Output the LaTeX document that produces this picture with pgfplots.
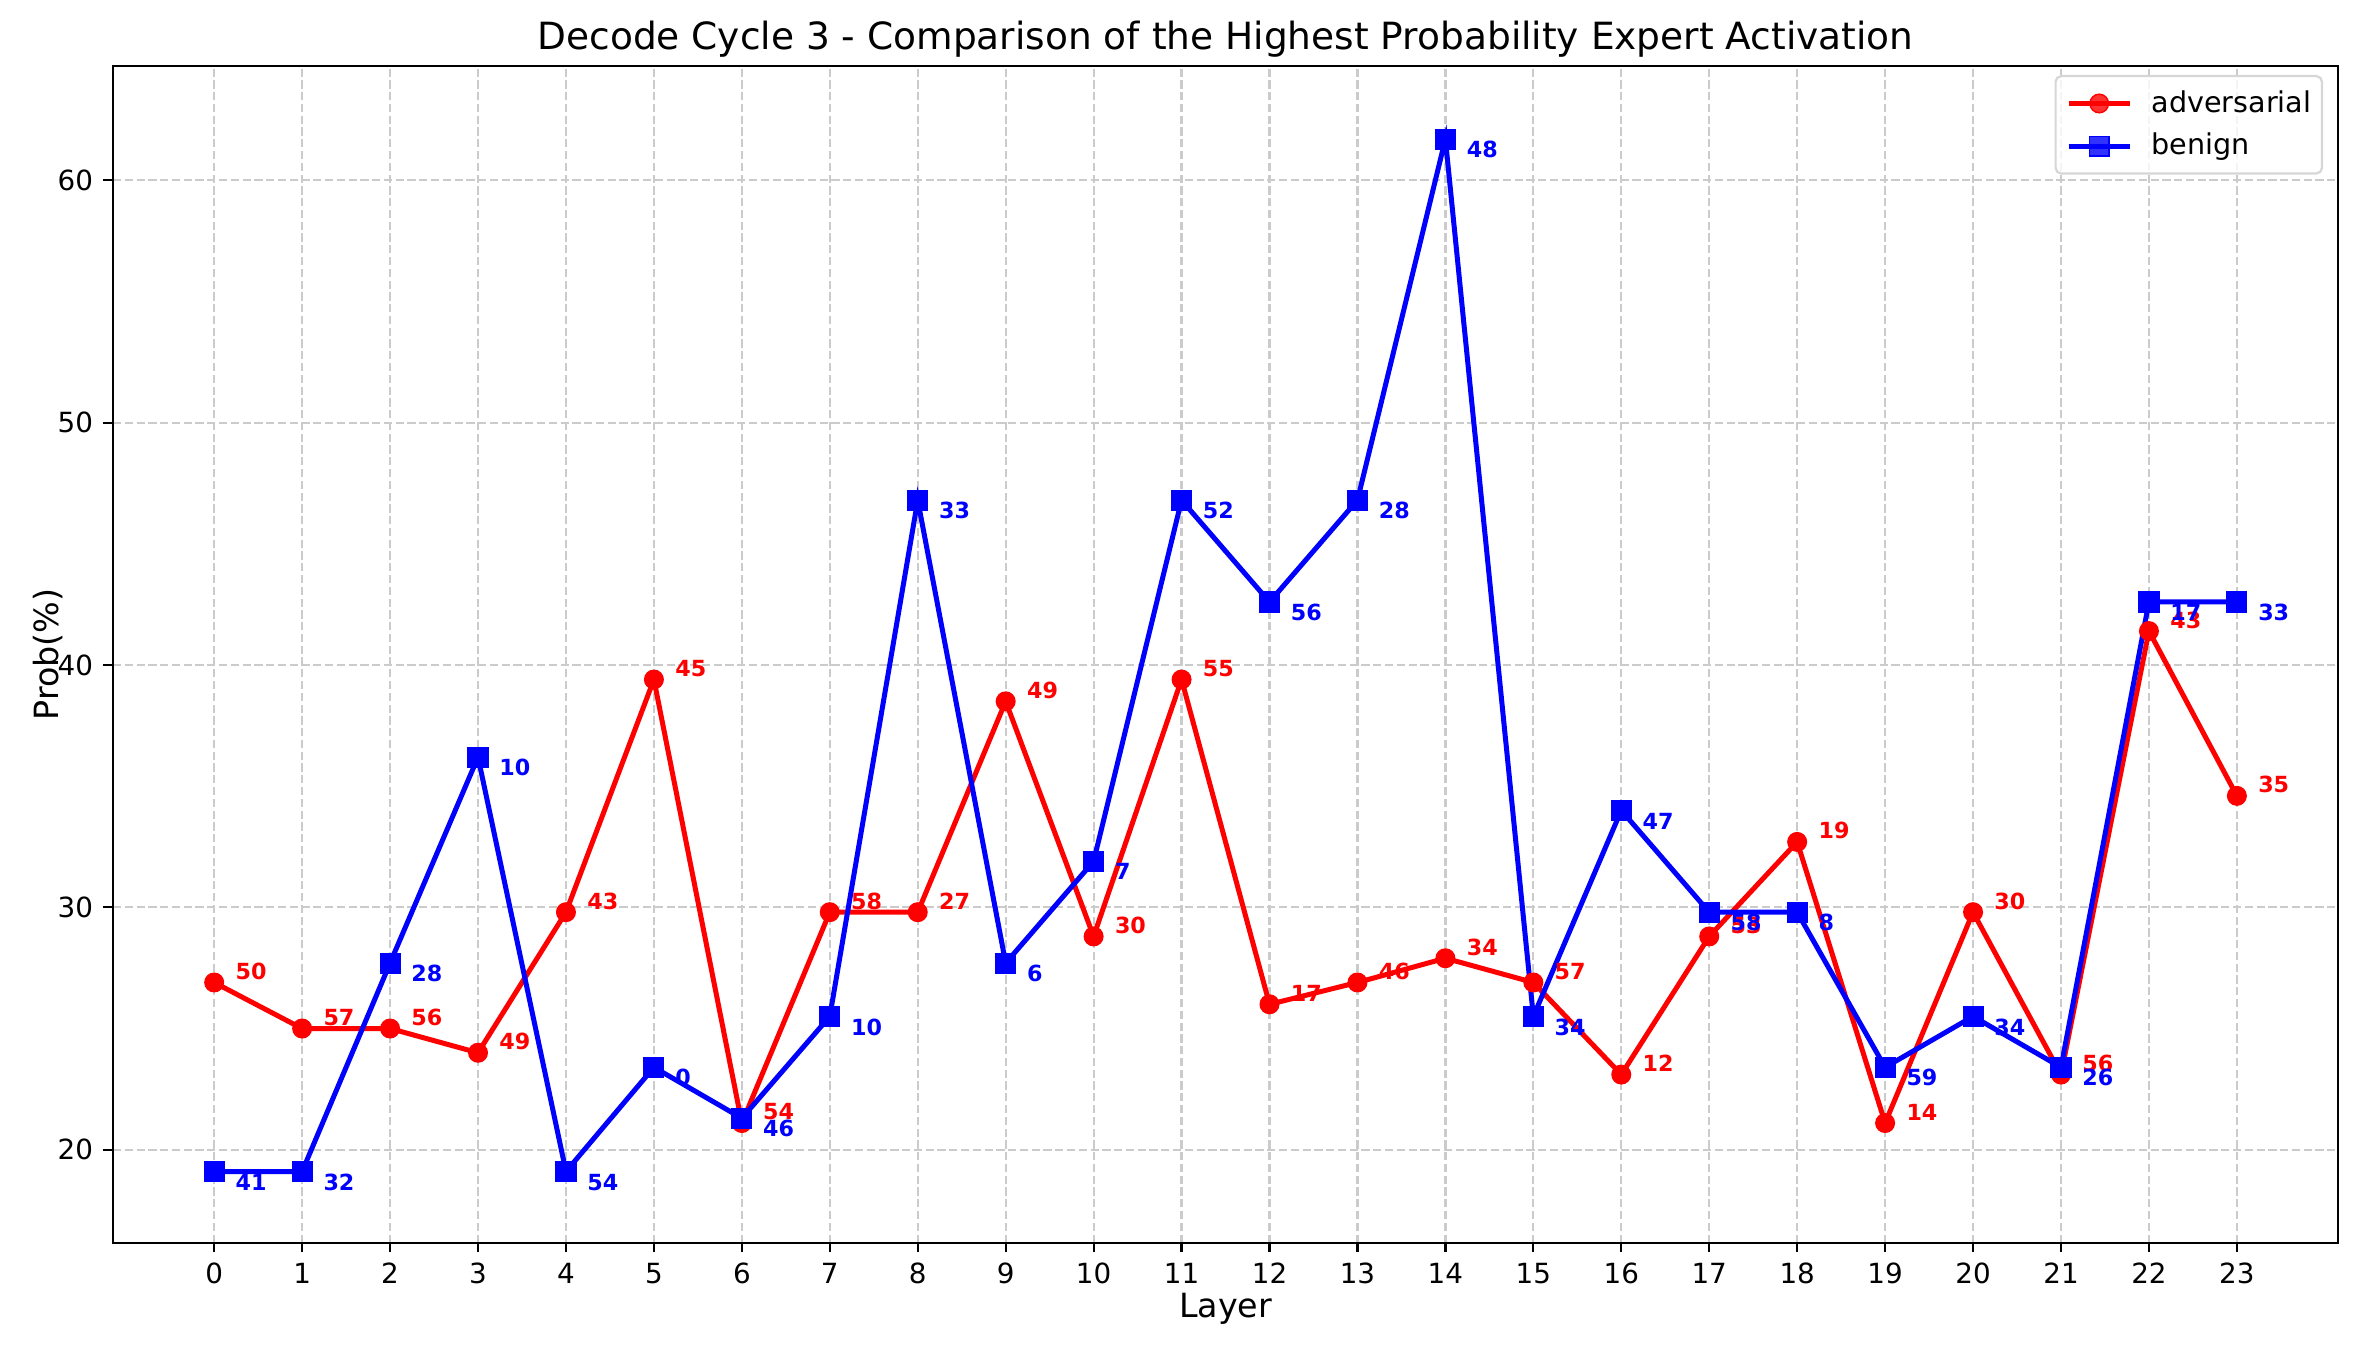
\documentclass[border=0pt]{standalone}
\usepackage{fontspec}
\setmainfont{DejaVu Sans}
\usepackage{pgfplots}
\pgfplotsset{compat=1.18}
\usepackage{pgfplotstable}

\definecolor{gridgray}{RGB}{203,203,203}
\definecolor{legedge}{RGB}{214,214,214}

% layer, adversarial prob, adversarial expert id, benign prob, benign expert id
\pgfplotstableread{
layer adv advlab ben benlab
0  26.9 50 19.1 41
1  25.0 57 19.1 32
2  25.0 56 27.7 28
3  24.0 49 36.2 10
4  29.8 43 19.1 54
5  39.4 45 23.4 0
6  21.1 54 21.3 46
7  29.8 58 25.5 10
8  29.8 27 46.8 33
9  38.5 49 27.7 6
10 28.8 30 31.9 7
11 39.4 55 46.8 52
12 26.0 17 42.6 56
13 26.9 46 46.8 28
14 27.9 34 61.7 48
15 26.9 57 25.5 34
16 23.1 12 34.0 47
17 28.8 53 29.8 58
18 32.7 19 29.8 8
19 21.1 14 23.4 59
20 29.8 30 25.5 34
21 23.1 56 23.4 26
22 41.4 43 42.6 17
23 34.6 35 42.6 33
}\cycledata

\begin{document}
\begin{tikzpicture}
\begin{axis}[
    scale only axis,
    width=801pt, height=423.5pt,
    xmin=-1.15, xmax=24.15,
    ymin=16.16, ymax=64.7,
    xtick={0,...,23},
    ytick={20,30,...,60},
    tick pos=left,
    tick align=outside,
    major tick length=3.5pt,
    tick style={black, line width=0.8pt},
    axis line style={line width=0.8pt},
    grid=major,
    grid style={gridgray, line width=0.8pt, dash pattern=on 2.96pt off 1.28pt},
    tick label style={
        font=\fontsize{10}{12}\selectfont,
        /pgf/number format/assume math mode=true
    },
    xticklabel style={inner sep=0pt, anchor=north, yshift=-3.5pt},
    yticklabel style={inner sep=0pt, anchor=east, xshift=-3.5pt},
    title={Decode Cycle 3 - Comparison of the Highest Probability Expert Activation},
    title style={font=\fontsize{13.5}{16}\selectfont, at={(0.5,1)}, anchor=base, yshift=0pt, inner sep=0pt},
    xlabel={Layer},
    ylabel={Prob(\%)},
    label style={font=\fontsize{12}{14}\selectfont},
    ylabel style={yshift=-5.4pt},
    legend style={
        font=\fontsize{10.3}{12.4}\selectfont,
        at={(1,1)}, anchor=north east,
        xshift=-5.4pt, yshift=-3.1pt,
        draw=legedge, line width=0.8pt, rounded corners=2pt,
        fill=white, fill opacity=0.8, text opacity=1,
        inner xsep=3.8pt, inner ysep=3.2pt,
        row sep=2pt,
        nodes={inner xsep=0pt},
        /tikz/every odd column/.append style={column sep=7pt},
    },
    legend cell align=left,
    legend image code/.code={
        \draw[mark repeat=2, mark phase=2] plot coordinates {(0pt,0pt) (11pt,0pt) (22pt,0pt)};
    },
]
\addplot[red, line width=1.8pt, mark=*, mark size=3.35pt,
    mark options={solid, line width=0.5pt}]
    table[x=layer, y=adv] {\cycledata};
\addlegendentry{adversarial}
\addplot[blue, line width=1.8pt, mark=square*, mark size=3.55pt,
    mark options={solid, line width=0.5pt}]
    table[x=layer, y=ben] {\cycledata};
\addlegendentry{benign}

\addplot[draw=none, forget plot, nodes near coords,
    point meta=explicit symbolic,
    every node near coord/.append style={
        font=\bfseries\fontsize{8}{9.6}\selectfont, text=red,
        anchor=west, inner sep=0pt, xshift=7.5pt, yshift=4pt}]
    table[x=layer, y=adv, meta=advlab] {\cycledata};
\addplot[draw=none, forget plot, nodes near coords,
    point meta=explicit symbolic,
    every node near coord/.append style={
        font=\bfseries\fontsize{8}{9.6}\selectfont, text=blue,
        anchor=west, inner sep=0pt, xshift=7.5pt, yshift=-3.8pt}]
    table[x=layer, y=ben, meta=benlab] {\cycledata};
\end{axis}
\pgfresetboundingbox
\path[use as bounding box]
    ([xshift=-40.7pt, yshift=-38.5pt]current axis.south west)
    rectangle ([xshift=9pt, yshift=23.9pt]current axis.north east);
\end{tikzpicture}
\end{document}
